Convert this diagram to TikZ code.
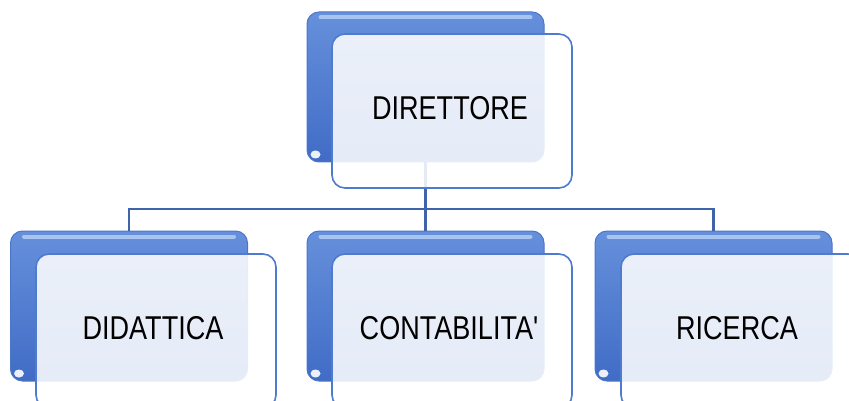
\documentclass[tikz,border=0pt]{standalone}
\usepackage{fontspec}
\newfontfamily\lab[FakeStretch=0.82]{Liberation Sans}
\definecolor{btop}{HTML}{6690DB}
\definecolor{bbot}{HTML}{406CC6}
\definecolor{bedge}{HTML}{4A77CC}
\definecolor{bhi}{HTML}{B4CEF6}
\definecolor{fedge}{HTML}{4E7BD0}
\definecolor{conncol}{HTML}{3F64AA}
\begin{document}
\begin{tikzpicture}[x=1pt,y=-1pt,
  backbox/.style={draw=bedge, line width=1pt, rounded corners=12pt,
    minimum width=237pt, minimum height=150pt, inner sep=0pt,
    top color=btop, bottom color=bbot},
  frontbox/.style={draw=fedge, line width=1.6pt, rounded corners=13pt,
    minimum width=240pt, minimum height=154pt, inner sep=0pt,
    fill=white, fill opacity=0.87},
  hilite/.style={draw=bhi, line width=4pt, line cap=round, opacity=0.85},
  conn/.style={draw=conncol, line width=2.5pt},
  lbl/.style={font=\lab\fontsize{33}{36}\selectfont, text=black, inner sep=0pt}]
\clip (0,0) rectangle (849,401);
% back boxes
\node[backbox] (tb) at (425.5,87) {};
\node[backbox] (lb) at (129,306) {};
\node[backbox] (mb) at (425.5,306) {};
\node[backbox] (rb) at (713.5,306) {};
\foreach \b in {tb,lb,mb,rb}{
  \draw[hilite] ([shift={(14,6)}]\b.north west) -- ([shift={(-14,6)}]\b.north east);
  \fill[white, opacity=0.9] ([shift={(9,-8)}]\b.south west) ellipse[x radius=5, y radius=4];
}
% connectors
\coordinate (bus) at (425.5,209);
\draw[conn] (tb.south) -- (bus);
\draw[conn] (bus) -| (lb.north);
\draw[conn] (bus) -| (rb.north);
\draw[conn] (bus) -- (mb.north);
% front boxes
\node[frontbox] (tf) at (452,111) {};
\node[frontbox] (lf) at (156,331) {};
\node[frontbox] (mf) at (452,331) {};
\node[frontbox] (rf) at (741,331) {};
% labels
\node[lbl] (tt) at ([shift={(-2,-3)}]tf.center) {DIRETTORE};
\node[lbl] (lt) at ([shift={(-3,-3)}]lf.center) {DIDATTICA};
\node[lbl] (mt) at ([shift={(-3,-3)}]mf.center) {CONTABILITA'};
\node[lbl] (rt) at ([shift={(-4,-3)}]rf.center) {RICERCA};
\end{tikzpicture}
\end{document}
